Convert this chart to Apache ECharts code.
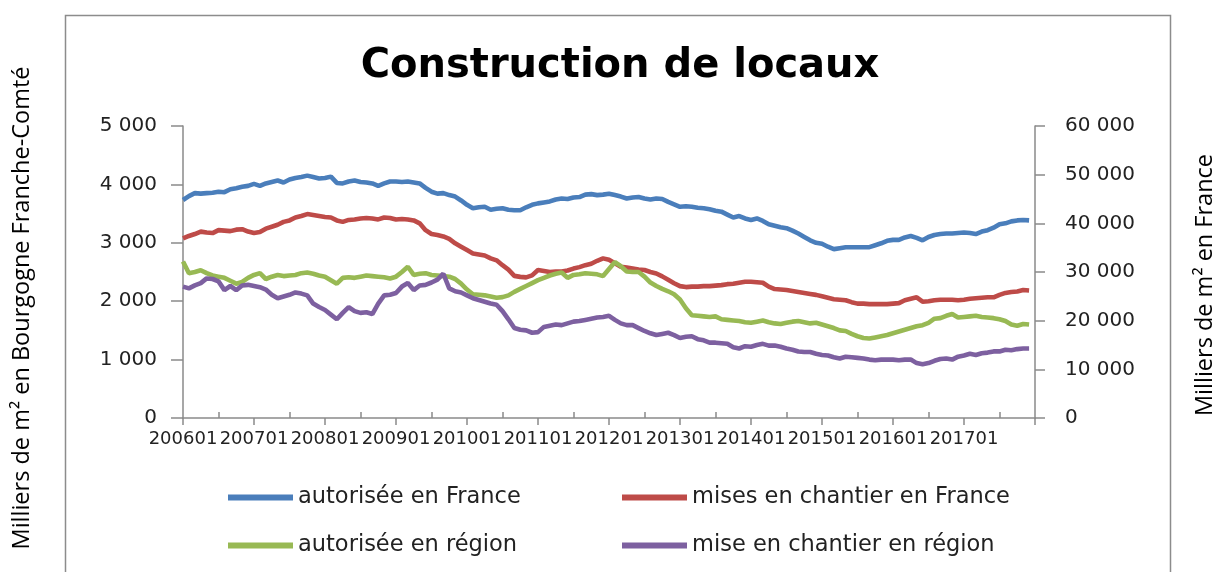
<!DOCTYPE html>
<html>
<head>
<meta charset="utf-8">
<title>Construction de locaux</title>
<script src="https://cdn.jsdelivr.net/npm/echarts@6/dist/echarts.min.js"></script>
<style>
  html, body { margin: 0; padding: 0; background: #fff; }
  #chart { width: 1217px; height: 572px; }
</style>
</head>
<body>
<div id="chart"></div>
<script>
// mois 200601 -> 201801 (le dernier sans valeur, il sert de fin d'axe)
const months = [];
for (let y = 2006; y <= 2017; y++) {
  for (let m = 1; m <= 12; m++) months.push(y + (m < 10 ? '0' : '') + m);
}
months.push('201801');

const yLeftTicks = [0, 1000, 2000, 3000, 4000, 5000];
const yRightTicks = [0, 10000, 20000, 30000, 40000, 50000, 60000];

// France (axe de droite), milliers de m2
const autoriseeFrance = [
  44800, 45600, 46200, 46100, 46200, 46300, 46500, 46400, 47000, 47200, 47500, 47700,
  48100, 47700, 48200, 48500, 48800, 48400, 49000, 49300, 49500, 49800, 49500, 49200,
  49300, 49600, 48300, 48200, 48600, 48800, 48500, 48400, 48200, 47700, 48200, 48600,
  48600, 48500, 48600, 48400, 48200, 47300, 46500, 46100, 46200, 45800, 45500, 44700,
  43800, 43100, 43300, 43400, 42800, 43000, 43100, 42800, 42700, 42700, 43300, 43800,
  44100, 44300, 44500, 44900, 45100, 45000, 45300, 45400, 45900, 46000, 45800, 45900,
  46100, 45800, 45500, 45100, 45300, 45400, 45100, 44900, 45100, 45000, 44400, 43900,
  43400, 43500, 43400, 43200, 43100, 42900, 42600, 42400, 41800, 41200, 41500, 41000,
  40700, 41000, 40500, 39800, 39500, 39200, 39000, 38500, 37900, 37200, 36500, 36000,
  35800, 35200, 34700, 34900, 35100, 35100, 35100, 35100, 35100, 35500, 35900, 36400,
  36600, 36600, 37100, 37400, 37000, 36500, 37200, 37600, 37800, 37900, 37900, 38000,
  38100, 38000, 37800, 38300, 38600, 39100, 39800, 40000, 40400, 40600, 40700, 40600
];
const chantierFrance = [
  36900, 37400, 37800, 38300, 38100, 38000, 38600, 38500, 38400, 38700, 38800, 38300,
  38000, 38200, 38900, 39300, 39700, 40300, 40600, 41200, 41500, 41900, 41700, 41500,
  41300, 41200, 40600, 40300, 40700, 40800, 41000, 41100, 41000, 40800, 41200, 41100,
  40800, 40900, 40800, 40600, 40000, 38600, 37800, 37600, 37300, 36800, 35900, 35200,
  34500, 33800, 33600, 33400, 32800, 32400, 31400, 30500, 29200, 29000, 28900, 29300,
  30400, 30200, 30000, 30100, 30100, 30300, 30700, 31000, 31400, 31700, 32300, 32800,
  32500, 31800, 31100, 30900, 30700, 30500, 30400, 30000, 29700, 29100, 28400, 27700,
  27100, 26900, 27000, 27000, 27100, 27100, 27200, 27300, 27500, 27600, 27800, 28000,
  28000, 27900, 27800, 27000, 26500, 26400, 26300, 26100, 25900, 25700, 25500, 25300,
  25000, 24700, 24400, 24300, 24200, 23800, 23500, 23500, 23400, 23400, 23400, 23400,
  23500, 23600, 24200, 24500, 24800, 23900, 24000, 24200, 24300, 24300, 24300, 24200,
  24300, 24500, 24600, 24700, 24800, 24800, 25300, 25700, 25900, 26000, 26300, 26200
];

// Bourgogne Franche-Comté (axe de gauche)
const autoriseeRegion = [
  2680, 2480, 2500, 2530, 2480, 2440, 2420, 2400, 2350, 2300, 2330, 2400,
  2450, 2480, 2380, 2420, 2450, 2430, 2440, 2450, 2480, 2490, 2470, 2440,
  2420, 2360, 2300, 2400, 2410, 2400, 2420, 2440, 2430, 2420, 2410, 2390,
  2420, 2500, 2590, 2450, 2470, 2480, 2450, 2440, 2430, 2420, 2380, 2300,
  2200, 2120, 2110, 2100, 2080, 2060, 2070, 2100, 2160, 2210, 2260, 2310,
  2360, 2400, 2440, 2470, 2490, 2400, 2450, 2460, 2480, 2470, 2460, 2430,
  2550, 2670, 2600, 2510, 2500, 2500, 2420, 2320, 2260, 2210, 2170, 2120,
  2030, 1880, 1760, 1750, 1740, 1730, 1740, 1690, 1680, 1670, 1660, 1640,
  1630, 1650, 1670, 1640, 1620, 1610, 1630, 1650, 1660, 1640, 1620, 1630,
  1600, 1570, 1540, 1500, 1490, 1440, 1400, 1370, 1360, 1380, 1400, 1420,
  1450, 1480, 1510, 1540, 1570, 1590, 1630, 1700, 1710, 1750, 1780, 1720,
  1730, 1740, 1750, 1730, 1720, 1710, 1690, 1660, 1600, 1580, 1610, 1600
];
const chantierRegion = [
  2250, 2220, 2270, 2310, 2390, 2380, 2340, 2190, 2260, 2190, 2270, 2280,
  2260, 2240, 2200, 2110, 2050, 2080, 2110, 2150, 2130, 2100, 1960, 1900,
  1850, 1770, 1690, 1800, 1900, 1830, 1800, 1810, 1780, 1960, 2100, 2110,
  2140, 2250, 2310, 2190, 2270, 2280, 2320, 2370, 2470, 2220, 2170, 2150,
  2100, 2050, 2020, 1990, 1960, 1940, 1830, 1690, 1540, 1510, 1500, 1460,
  1470, 1560, 1580, 1600, 1590, 1620, 1650, 1660, 1680, 1700, 1720, 1730,
  1750, 1680, 1620, 1590, 1590, 1540, 1490, 1450, 1420, 1440, 1460, 1420,
  1370, 1390, 1400, 1350, 1330, 1290, 1290, 1280, 1270, 1210, 1190, 1230,
  1220, 1250, 1270, 1240, 1240, 1220, 1190, 1170, 1140, 1130, 1130, 1100,
  1080, 1070, 1040, 1020, 1050, 1040, 1030, 1020, 1000, 990, 1000, 1000,
  1000, 990, 1000, 1000, 940, 920, 940, 980, 1010, 1020, 1000, 1050,
  1070, 1100, 1080, 1110, 1120, 1140, 1140, 1170, 1160, 1180, 1190, 1190
];

const seriesNames = ['autorisée en France', 'mises en chantier en France', 'autorisée en région', 'mise en chantier en région'];
const seriesColors = ['#4a7ebb', '#be4b48', '#98b954', '#7d60a0'];

(function () {
    let myChart = echarts.init(document.getElementById('chart'));

    const fmt = v => String(v).replace(/\B(?=(\d{3})+(?!\d))/g, ' ');
    const axisGray = '#8a8a8a';
    const labelFont = 'DejaVu Sans';

    function line(name, color, data, yIdx) {
        return {
            name: name,
            type: 'line',
            xAxisIndex: 0,
            yAxisIndex: yIdx,
            data: data,
            showSymbol: false,
            symbol: 'none',
            color: color,
            lineStyle: { color: color, width: 4.6 },
            emphasis: { disabled: true }
        };
    }

    function legendItem(i, left, top) {
        return {
            data: [{ name: seriesNames[i], icon: 'rect' }],
            left: left,
            top: top,
            padding: 0,
            itemWidth: 65,
            itemHeight: 6,
            selectedMode: false,
            textStyle: { fontFamily: labelFont, fontSize: 22.5, color: '#222' }
        };
    }

    let option = {
        animation: false,
        title: {
            text: 'Construction de locaux',
            left: 615,
            top: 42,
            textAlign: 'center',
            textStyle: { fontFamily: labelFont, fontWeight: 'bold', fontSize: 40, color: '#000' }
        },
        legend: [
            legendItem(0, 228, 486),
            legendItem(1, 622, 486),
            legendItem(2, 228, 534),
            legendItem(3, 622, 534)
        ],
        grid: { left: 183, right: 182, top: 126, bottom: 154, containLabel: false },
        xAxis: [{
            type: 'category',
            gridIndex: 0,
            data: months,
            boundaryGap: false,
            axisLine: { lineStyle: { color: axisGray, width: 1.5 } },
            axisTick: { show: true, length: 7, interval: idx => idx % 12 === 0, lineStyle: { color: axisGray, width: 1.5 } },
            axisLabel: {
                interval: idx => idx % 12 === 0 && idx < 144,
                margin: 12,
                fontFamily: labelFont,
                fontSize: 18,
                color: '#222'
            },
            splitLine: { show: false }
        }, {
            // petites graduations semestrielles, vers l'intérieur
            type: 'category',
            gridIndex: 0,
            data: months,
            boundaryGap: false,
            position: 'bottom',
            offset: 0,
            axisLine: { show: false, onZero: false },
            axisTick: { show: true, inside: true, length: 6, interval: idx => idx % 12 === 6, lineStyle: { color: axisGray, width: 1.5 } },
            axisLabel: { show: false },
            splitLine: { show: false }
        }],
        yAxis: [{
            type: 'value',
            min: yLeftTicks[0],
            max: yLeftTicks[yLeftTicks.length - 1],
            interval: 1000,
            axisLine: { show: true, lineStyle: { color: axisGray, width: 1.5 } },
            axisTick: { show: true, length: 12, lineStyle: { color: axisGray, width: 1.5 } },
            axisLabel: { margin: 26, formatter: fmt, fontFamily: labelFont, fontSize: 20, color: '#222' },
            splitLine: { show: false }
        }, {
            type: 'value',
            min: yRightTicks[0],
            max: yRightTicks[yRightTicks.length - 1],
            interval: 10000,
            position: 'right',
            axisLine: { show: true, lineStyle: { color: axisGray, width: 1.5 } },
            axisTick: { show: true, length: 10, lineStyle: { color: axisGray, width: 1.5 } },
            axisLabel: { margin: 30, formatter: fmt, fontFamily: labelFont, fontSize: 20, color: '#222' },
            splitLine: { show: false }
        }],
        graphic: [{
            type: 'rect',
            shape: { x: 65.5, y: 15.5, width: 1105, height: 600 },
            style: { fill: 'none', stroke: '#8c8c8c', lineWidth: 1.5 },
            silent: true
        }, {
            type: 'text',
            x: 22, y: 308,
            rotation: Math.PI / 2,
            style: {
                text: 'Milliers de m² en Bourgogne Franche-Comté',
                fontFamily: 'Open Sans', fontSize: 23.5, fill: '#000',
                textAlign: 'center', textVerticalAlign: 'middle'
            }
        }, {
            type: 'text',
            x: 1205, y: 285,
            rotation: Math.PI / 2,
            style: {
                text: 'Milliers de m² en France',
                fontFamily: 'Open Sans', fontSize: 23.5, fill: '#000',
                textAlign: 'center', textVerticalAlign: 'middle'
            }
        }],
        series: [
            line(seriesNames[0], seriesColors[0], autoriseeFrance, 1),
            line(seriesNames[1], seriesColors[1], chantierFrance, 1),
            line(seriesNames[2], seriesColors[2], autoriseeRegion, 0),
            line(seriesNames[3], seriesColors[3], chantierRegion, 0)
        ]
    };

    myChart.setOption(option);

    window.addEventListener('resize', function () {
        myChart.resize();
    });
})();
</script>
</body>
</html>
